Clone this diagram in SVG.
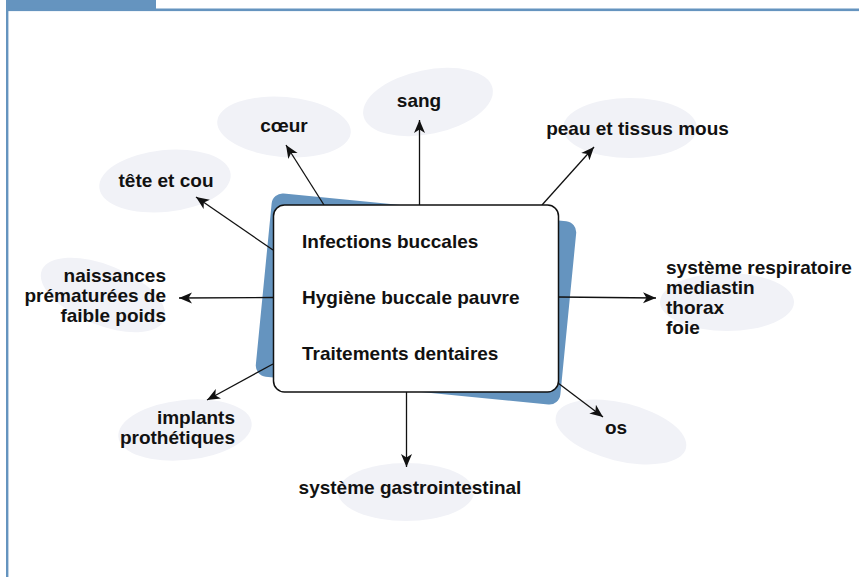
<svg xmlns="http://www.w3.org/2000/svg" width="859" height="577" viewBox="0 0 859 577">
<style>
.lbl{font-family:"Liberation Sans",Arial,Helvetica,sans-serif;font-weight:bold;font-size:19px;fill:#111}
.el{fill:#f1f2f7}
.con{stroke:#111;stroke-width:1.3;fill:none}
.frame{fill:#6594bf}
</style>
<defs>
<marker id="ah" markerUnits="userSpaceOnUse" markerWidth="14" markerHeight="12" viewBox="0 0 14 12" refX="13" refY="6" orient="auto">
<path d="M0,0.5 L13,6 L0,11.5 L3.5,6 Z" fill="#111"/>
</marker>
</defs>
<rect width="859" height="577" fill="#fff"/>
<g id="frame">
<rect class="frame" x="6" y="0" width="150" height="9"/>
<rect class="frame" x="6" y="8.5" width="853" height="2.6"/>
<rect class="frame" x="6" y="0" width="2.4" height="577"/>
</g>
<g id="ellipses">
<ellipse class="el" cx="284" cy="127" rx="67" ry="30" transform="rotate(5 284 127)"/>
<ellipse class="el" cx="428" cy="102" rx="66" ry="32" transform="rotate(-12 428 102)"/>
<ellipse class="el" cx="630" cy="128" rx="67" ry="30"/>
<ellipse class="el" cx="165" cy="181" rx="66" ry="31" transform="rotate(-6 165 181)"/>
<ellipse class="el" cx="103" cy="295" rx="66" ry="30" transform="rotate(22 103 295)"/>
<ellipse class="el" cx="727" cy="302" rx="67" ry="29"/>
<ellipse class="el" cx="185" cy="430" rx="67" ry="30" transform="rotate(-6 185 430)"/>
<ellipse class="el" cx="621" cy="432" rx="67" ry="29" transform="rotate(14 621 432)"/>
<ellipse class="el" cx="406" cy="492" rx="68" ry="29"/>
</g>
<g id="center-shadow">
<rect x="263" y="207" width="306" height="184" rx="11" fill="#6594bf" transform="rotate(5.6 416 299)"/>
</g>
<g id="connectors">
<line class="con" x1="324" y1="205" x2="286" y2="145" marker-end="url(#ah)"/>
<line class="con" x1="419.5" y1="205" x2="419.5" y2="120" marker-end="url(#ah)"/>
<line class="con" x1="542" y1="205" x2="594" y2="147" marker-end="url(#ah)"/>
<line class="con" x1="273" y1="250" x2="196" y2="197" marker-end="url(#ah)"/>
<line class="con" x1="273" y1="297.5" x2="179" y2="298" marker-end="url(#ah)"/>
<line class="con" x1="558" y1="297" x2="656" y2="298" marker-end="url(#ah)"/>
<line class="con" x1="273" y1="364" x2="207" y2="400" marker-end="url(#ah)"/>
<line class="con" x1="406.5" y1="392" x2="406.5" y2="467" marker-end="url(#ah)"/>
<line class="con" x1="558" y1="383" x2="603" y2="417" marker-end="url(#ah)"/>
</g>
<g id="center">
<rect x="273.5" y="205" width="285" height="187" rx="11" fill="#fff" stroke="#111" stroke-width="1.5"/>
<text class="lbl" x="302" y="248">Infections buccales</text>
<text class="lbl" x="302" y="304">Hygiène buccale pauvre</text>
<text class="lbl" x="302" y="360">Traitements dentaires</text>
</g>
<g id="n-coeur"><text class="lbl" x="284" y="132" text-anchor="middle">cœur</text></g>
<g id="n-sang"><text class="lbl" x="419" y="107" text-anchor="middle">sang</text></g>
<g id="n-peau"><text class="lbl" x="637.5" y="135" text-anchor="middle">peau et tissus mous</text></g>
<g id="n-tete"><text class="lbl" x="166" y="187" text-anchor="middle">tête et cou</text></g>
<g id="n-naissances">
<text class="lbl" text-anchor="end"><tspan x="166" y="282">naissances</tspan><tspan x="166" y="302">prématurées de</tspan><tspan x="166" y="322">faible poids</tspan></text>
</g>
<g id="n-respiratoire">
<text class="lbl"><tspan x="666" y="274">système respiratoire</tspan><tspan x="666" y="294">mediastin</tspan><tspan x="666" y="314">thorax</tspan><tspan x="666" y="334">foie</tspan></text>
</g>
<g id="n-implants">
<text class="lbl" text-anchor="end"><tspan x="235" y="424">implants</tspan><tspan x="235" y="444">prothétiques</tspan></text>
</g>
<g id="n-os"><text class="lbl" x="616" y="434" text-anchor="middle">os</text></g>
<g id="n-gastro"><text class="lbl" x="410" y="494" text-anchor="middle">système gastrointestinal</text></g>
</svg>
